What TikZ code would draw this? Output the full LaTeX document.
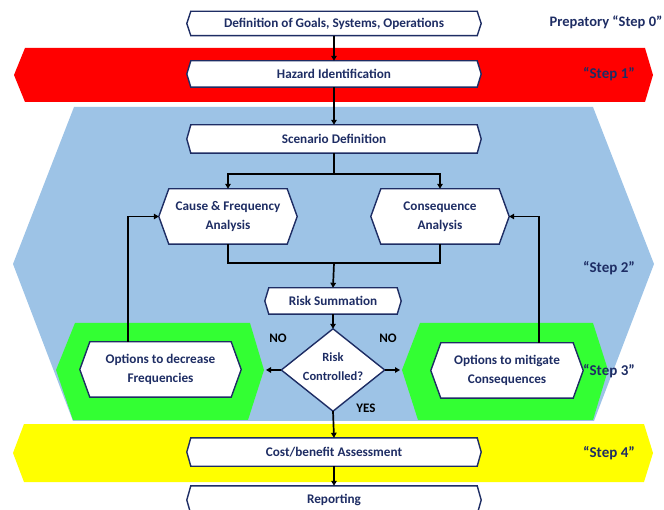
\documentclass[tikz,border=0pt]{standalone}
\usepackage{fontspec}
\setmainfont{Carlito}
\usetikzlibrary{arrows.meta}
\definecolor{navy}{RGB}{30,45,100}
\definecolor{bandred}{RGB}{255,0,0}
\definecolor{bandblue}{RGB}{157,195,230}
\definecolor{bandgreen}{RGB}{51,255,51}
\definecolor{bandyellow}{RGB}{255,255,0}
\tikzset{
  txt/.style={inner sep=0pt, font=\bfseries\fontsize{13.2}{19.5}\selectfont, text=navy, align=center},
  steptxt/.style={inner sep=0pt, font=\bfseries\fontsize{15}{17}\selectfont, text=navy},
  boxline/.style={draw=navy, line width=1.4pt, fill=white, line join=miter},
  arr/.style={draw=black, line width=1.7pt, -{Triangle[length=5pt,width=5.5pt]}},
  plain/.style={draw=black, line width=1.7pt},
  lab/.style={inner sep=0pt, font=\bfseries\fontsize{13}{15}\selectfont, text=black}
}
% name, cx, cy, w, h, indent, text
\newcommand\hexbox[7]{%
  \node[txt, minimum width=#4pt, minimum height=#5pt] (#1) at (#2,#3) {};
  \draw[boxline] ([xshift=#6pt]#1.north west) -- ([xshift=-#6pt]#1.north east) -- (#1.east)
     -- ([xshift=-#6pt]#1.south east) -- ([xshift=#6pt]#1.south west) -- (#1.west) -- cycle;
  \node[txt] (#1-t) at (#1) {#7};
}
\begin{document}
\begin{tikzpicture}[x=1pt,y=-1pt]
\useasboundingbox (0,0) rectangle (664,510);
\clip (0,0) rectangle (664,510);
% bands
\fill[bandred] (25,48) -- (645,48) -- (653,75) -- (645,102) -- (25,102) -- (14,75) -- cycle;
\fill[bandblue] (74,107) -- (593,107) -- (654,264) -- (594,421) -- (73,421) -- (13,264) -- cycle;
\fill[bandgreen] (75,323) -- (250,323) -- (264,370) -- (248,420) -- (73,420) -- (56,370) -- cycle;
\fill[bandgreen] (420,323) -- (593,323) -- (608,370) -- (593,420) -- (418,420) -- (402,370) -- cycle;
\fill[bandyellow] (24,424) -- (644,424) -- (653,453) -- (644,482) -- (24,482) -- (13,453) -- cycle;

% boxes
\hexbox{def}{334}{23.5}{294}{24}{4}{Definition of Goals, Systems, Operations}
\hexbox{haz}{334}{74}{294}{26}{4}{Hazard Identification}
\hexbox{scen}{334}{139}{294}{28}{4}{Scenario Definition}
\hexbox{cause}{228}{216.5}{138}{55}{10}{Cause \& Frequency\\Analysis}
\hexbox{cons}{440}{216.5}{138}{55}{10}{Consequence\\Analysis}
\hexbox{sum}{333}{301}{136}{26}{4}{Risk Summation}
\hexbox{optf}{160.5}{369.5}{161}{55}{10}{Options to decrease\\Frequencies}
\hexbox{optc}{507}{370.5}{152}{55}{10}{Options to mitigate\\Consequences}
\hexbox{cost}{334}{452}{294}{28}{4}{Cost/benefit Assessment}
\hexbox{rep}{334}{500}{294}{28}{4}{Reporting}

% decision diamond
\node[txt, minimum width=103pt, minimum height=82pt] (dia) at (333,370) {};
\draw[boxline] (dia.north) -- (dia.east) -- (dia.south) -- (dia.west) -- cycle;
\node[txt, font=\bfseries\fontsize{12.5}{19}\selectfont] (dia-t) at (333,367) {Risk\\Controlled?};

% step labels
\node[steptxt, font=\bfseries\fontsize{14.5}{17}\selectfont] (s0) at (606,22) {Prepatory “Step 0”};
\node[steptxt] (s1) at (609,74) {“Step 1”};
\node[steptxt] (s2) at (609,268) {“Step 2”};
\node[steptxt] (s3) at (609,371) {“Step 3”};
\node[steptxt] (s4) at (609,453) {“Step 4”};

% labels
\node[lab] (no1) at (278,338) {NO};
\node[lab] (no2) at (388,338) {NO};
\node[lab] (yes) at (366,408) {YES};

% connectors
\coordinate (split) at (334,174);
\coordinate (merge) at (334,263);
\coordinate (lend) at (266,370);
\coordinate (rend) at (400,370);
\draw[arr] (def.south) -- (haz.north);
\draw[arr] (haz.south) -- (scen.north);
\draw[plain] (scen.south) -- (split);
\draw[arr] (split) -| (cause.north);
\draw[arr] (split) -| (cons.north);
\draw[plain] (cause.south) |- (merge) -| (cons.south);
\draw[arr] (merge) -- (sum.north);
\draw[arr] (sum.south) -- (dia.north);
\draw[arr] (dia.west) -- (lend);
\draw[arr] (dia.east) -- (rend);
\draw[arr] (dia.south) -- (cost.north);
\draw[arr] (cost.south) -- (rep.north);
\draw[arr] ([xshift=-32.5pt]optf.north) |- (cause.west);
\draw[arr] ([xshift=32pt]optc.north) |- (cons.east);
\end{tikzpicture}
\end{document}
